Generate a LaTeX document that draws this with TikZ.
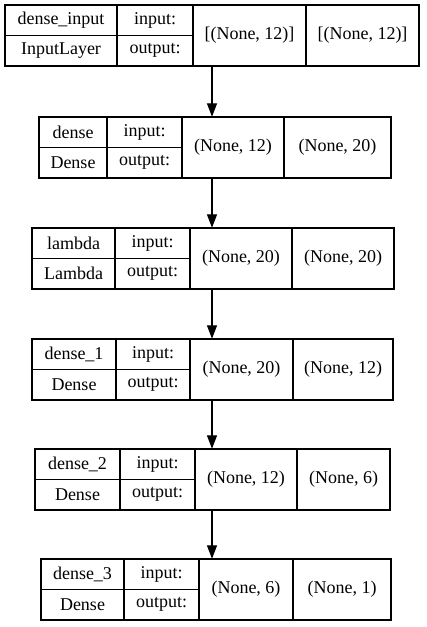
\documentclass[tikz,border=0pt]{standalone}
\usepackage{fontspec}
\setmainfont{Liberation Serif}
\usetikzlibrary{arrows.meta,fit}

\begin{document}
\begin{tikzpicture}[
    x=0.75pt, y=-0.75pt,
    cell/.style={rectangle, draw, inner sep=0pt, line width=0.8pt},
    txt/.style={font=\fontsize{13.5}{16}\selectfont, inner sep=0pt},
    arrow/.style={-{Triangle[length=10pt, width=7.5pt]}, line width=0.8pt},
  ]
    \useasboundingbox (0,0) rectangle (427,627);
    \coordinate (axis) at (212,0);

    \foreach \i/\T/\L/\A/\B/\C/\R/\lname/\ltype/\shin/\shout in {
        1/5/5/117/193/306/419/dense\_input/InputLayer/{[(None, 12)]}/{[(None, 12)]},
        2/117/39/107/182/284/391/dense/Dense/{(None, 12)}/{(None, 20)},
        3/228/32/115/190/292/394/lambda/Lambda/{(None, 20)}/{(None, 20)},
        4/339/32/116/190/293/393/dense\_1/Dense/{(None, 20)}/{(None, 12)},
        5/449/35/120/195/297/390/dense\_2/Dense/{(None, 12)}/{(None, 6)},
        6/559/41/124/199/293/391/dense\_3/Dense/{(None, 6)}/{(None, 1)}} {
      \node[inner sep=0pt, fit={(\L,\T) (\R,\T+61)}] (layer\i) {};
      \node[cell, fit={(\L,\T) (\A,\T+30.5)}, label={[txt]center:\lname}] (name\i) {};
      \node[cell, fit={(\L,\T+30.5) (\A,\T+61)}, label={[txt]center:\ltype}] (type\i) {};
      \node[cell, fit={(\A,\T) (\B,\T+30.5)}, label={[txt]center:input:}] (inl\i) {};
      \node[cell, fit={(\A,\T+30.5) (\B,\T+61)}, label={[txt]center:output:}] (outl\i) {};
      \node[cell, fit={(\B,\T) (\C,\T+61)}, label={[txt]center:\shin}] (ins\i) {};
      \node[cell, fit={(\C,\T) (\R,\T+61)}, label={[txt]center:\shout}] (outs\i) {};
    }

    \foreach \i/\j in {1/2,2/3,3/4,4/5,5/6}
      \draw[arrow] (layer\i.south -| axis) -- (layer\j.north -| axis);
  \end{tikzpicture}
\end{document}
